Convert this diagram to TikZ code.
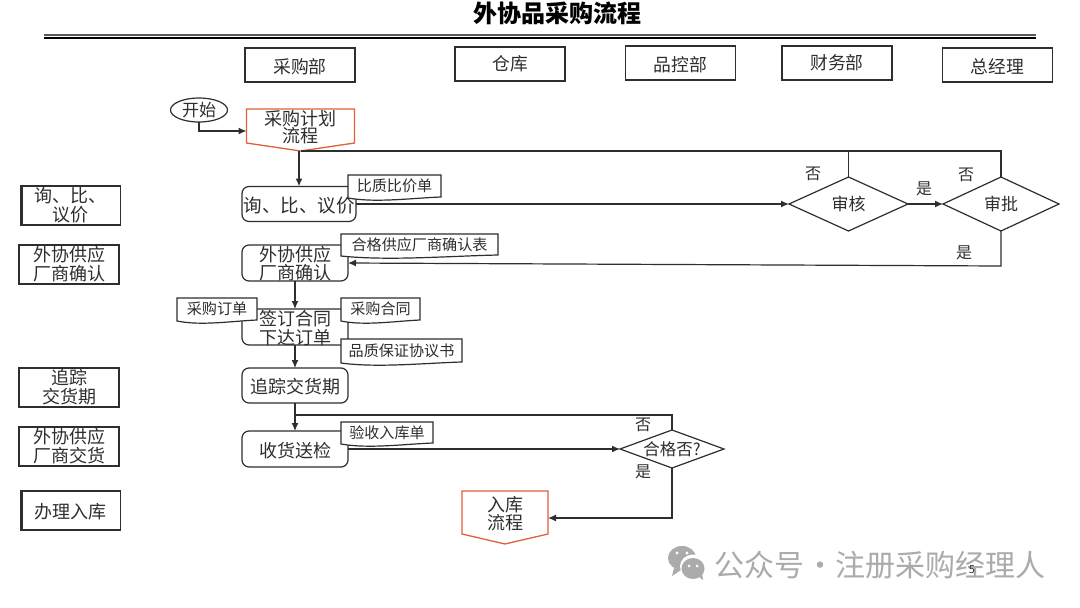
\documentclass[tikz,border=0pt]{standalone}
\usepackage{fontspec}
\setmainfont{Noto Sans CJK SC}
\usetikzlibrary{shapes.geometric,arrows.meta}
\definecolor{ink}{HTML}{2E2E2E}
\definecolor{pent}{HTML}{E0603C}
\definecolor{wmgray}{HTML}{ABABAB}
\newcommand{\dn}[1]{\raisebox{-1.4pt}[\height][\depth]{#1}}
\tikzset{
 base/.style={inner sep=0pt,outer sep=0pt,align=center,text=ink,font=\fontsize{18}{19}\selectfont},
 headbox/.style={base,draw=ink,line width=1.2pt,minimum width=110pt,minimum height=34pt,font=\fontsize{17.8}{20}\selectfont},
 sidebox/.style={base,draw=ink,line width=1.4pt,minimum width=100pt,font=\fontsize{18}{19}\selectfont},
 procbox/.style={base,draw=ink,line width=1.2pt,rounded corners=7pt,fill=white},
 tagbox/.style={base,font=\fontsize{15.1}{16}\selectfont},
 tagline/.style={draw=ink,line width=1.2pt,fill=white},
 pentbox/.style={base,font=\fontsize{18}{17.5}\selectfont},
 pentline/.style={draw=pent,line width=1.3pt,fill=white},
 dec/.style={base,draw=ink,line width=1.2pt,shape=diamond,aspect=1,fill=white},
 conn/.style={draw=ink,line width=1.2pt},
 flow/.style={conn,-{Latex[length=8pt,width=7pt]}},
 lbl/.style={base,font=\fontsize{16}{18}\selectfont},
}
% tag: name, centre, width, height, text
\newcommand{\tagnote}[5]{%
 \node[tagbox,minimum width=#3pt,minimum height=#4pt] (#1) at #2 {};
 \path[tagline] (#1.north west)--(#1.north east)--(#1.south east)
   .. controls ([xshift=-0.3*#3 pt,yshift=-1pt]#1.south east) and ([xshift=0.3*#3 pt,yshift=-6pt]#1.south west) .. ([yshift=-1pt]#1.south west)--cycle;
 \node[tagbox] at (#1.center) {#5};
}
% pentagon: name, centre, width, height, tip depth, text
\newcommand{\pentnode}[6]{%
 \node[pentbox,minimum width=#3pt,minimum height=#4pt] (#1) at #2 {};
 \coordinate (#1tip) at ([yshift=-#5pt]#1.south);
 \path[pentline] (#1.north west)--(#1.north east)--(#1.south east)--(#1tip)--(#1.south west)--cycle;
 \node[pentbox] at ([yshift=-1pt]#1.center) {#6};
}
\begin{document}
\begin{tikzpicture}[x=1pt,y=-1pt]
\useasboundingbox[fill=white] (0,0) rectangle (1080,608);
% title
\node[base,font=\fontsize{24}{26}\bfseries\selectfont,text=black] (title) at (557,13) {外协品采购流程};
\coordinate (ruleL) at (44,35); \coordinate (ruleR) at (1036,35);
\coordinate (ruleLb) at (44,38); \coordinate (ruleRb) at (1036,38);
\draw[ink!80,line width=1.5pt] (ruleL)--(ruleR);
\draw[black,line width=2.2pt] (ruleLb)--(ruleRb);
% headers
\node[headbox] (h1) at (300,65) {\dn{采购部}};
\node[headbox] (h2) at (510,64) {仓库};
\node[headbox] (h3) at (680.5,63) {\dn{品控部}};
\node[headbox] (h4) at (837,63) {财务部};
\node[headbox] (h5) at (997.5,65) {\dn{总经理}};
% side boxes
\node[sidebox,minimum height=39pt] (s1) at (70.5,205.5) {询、比、\\议价};
\draw[ink,line width=1.3pt] ([xshift=1.6pt]s1.north west)--([xshift=1.6pt]s1.south west);
\node[sidebox,minimum height=39pt] (s2) at (69,264.5) {外协供应\\厂商确认};
\node[sidebox,minimum height=39pt] (s3) at (69,387.5) {追踪\\交货期};
\node[sidebox,minimum height=39pt] (s4) at (69,446.5) {外协供应\\厂商交货};
\node[sidebox,minimum height=39pt] (s5) at (70.5,510.5) {\dn{办理入库}};
\draw[ink,line width=1.3pt] ([xshift=1.6pt]s5.north west)--([xshift=1.6pt]s5.south west);
% start
\node[base,draw=ink,line width=1.2pt,shape=ellipse,minimum width=57pt,minimum height=24pt,font=\fontsize{17}{18}\selectfont] (start) at (199,110) {\smash{\makebox[0pt]{\raisebox{-6pt}{开始}}}};
% pentagons
\pentnode{plan}{(300.5,126)}{108}{34}{8}{采购计划\\流程}
\pentnode{store}{(505,512.5)}{86}{43}{10}{入库\\流程}
% process boxes
\node[procbox,minimum width=114pt,minimum height=35pt,font=\fontsize{18.5}{19}\selectfont] (p1) at (299,204) {\dn{询、比、议价}};
\node[procbox,minimum width=106pt,minimum height=36pt] (p2) at (295,263) {\dn{外协供应}\\厂商确认};
\node[procbox,minimum width=106pt,minimum height=36pt] (p3) at (295,327) {\dn{签订合同}\\\dn{下达订单}};
\node[procbox,minimum width=106pt,minimum height=35pt] (p4) at (295,385.5) {\dn{追踪交货期}};
\node[procbox,minimum width=106pt,minimum height=36pt] (p5) at (295,449) {\dn{收货送检}};
% diamonds
\node[dec,minimum width=119pt,minimum height=54pt,font=\fontsize{17}{19}\selectfont] (d1) at (848.5,204) {\smash{\makebox[0pt]{\raisebox{-6pt}{审核}}}};
\node[dec,minimum width=116pt,minimum height=54pt,font=\fontsize{17}{19}\selectfont] (d2) at (1001,204) {\smash{\makebox[0pt]{\raisebox{-6pt}{审批}}}};
\node[dec,minimum width=104pt,minimum height=38pt,font=\fontsize{16.5}{19}\selectfont] (d3) at (672,449) {\smash{\makebox[0pt]{\raisebox{-6pt}{合格否?}}}};
% connectors
\coordinate (j0) at (199,131);
\draw[flow] (start.south)--(j0)--(plan.west|-j0);
\draw[flow,line width=1.6pt] (plantip-|p1.north)--(p1.north);
\coordinate (loopA) at (plantip-|d1.north);
\coordinate (loopB) at (plantip-|d2.north);
\draw[conn] (plantip)--(loopA)--(d1.north);
\draw[conn] (loopA)--(loopB)--(d2.north);
\draw[flow] (p1.east)--(d1.west);
\draw[flow] (d1.east)--(d2.west);
\coordinate (c2) at (1001,266);
\draw[flow] (d2.south)--(c2)--(p2.east);
\draw[flow] (p2.south)--(p3.north);
\draw[flow] (p3.south)--(p4.north);
\draw[flow] (p4.south)--(p5.north);
\coordinate (c3a) at (295,415);
\coordinate (c3b) at (672,415);
\draw[conn] (c3a)--(c3b)--(d3.north);
\draw[flow] (p5.east)--(d3.west);
\coordinate (c4) at (672,518);
\draw[flow] (d3.south)--(c4)--(c4-|store.east);
% tags
\tagnote{t1}{(394.5,186)}{93}{22}{比质比价单}
\tagnote{t2}{(419.5,244.5)}{157}{21}{合格供应厂商确认表}
\tagnote{t3}{(217,309)}{80}{22}{采购订单}
\tagnote{t4}{(380.5,309)}{79}{22}{采购合同}
\tagnote{t5}{(401.5,350.5)}{121}{23}{品质保证协议书}
\tagnote{t6}{(387,432.5)}{92}{21}{验收入库单}
% labels
\node[lbl] (n1) at (813,174) {否};
\node[lbl] (y1) at (924,189) {是};
\node[lbl] (n2) at (966,175) {否};
\node[lbl] (y2) at (964,253) {是};
\node[lbl] (n3) at (643,425) {否};
\node[lbl] (y3) at (643,472) {是};
% watermark
\node[base,text=wmgray,font=\fontsize{30}{32}\selectfont,anchor=west] (wm) at (714.5,565) {公众号\kern-6pt{} · {}\kern-6pt 注册采购经理人};
\fill[wmgray] (682,558) ellipse (14pt and 12pt);
\fill[wmgray] (674,568)--(672,576)--(681,570)--cycle;
\fill[white] (693,566.5) ellipse (13pt and 12pt);
\fill[wmgray] (693,568.5) ellipse (11.5pt and 10.5pt);
\fill[wmgray] (698,576)--(703,580)--(702,572)--cycle;
\fill[white] (677,553) circle (1.6pt) (687,553) circle (1.6pt) (689,566) circle (1.5pt) (697,566) circle (1.5pt);
\node[base,font=\fontsize{11}{12}\selectfont] (page) at (972,570) {5};
\end{tikzpicture}
\end{document}
